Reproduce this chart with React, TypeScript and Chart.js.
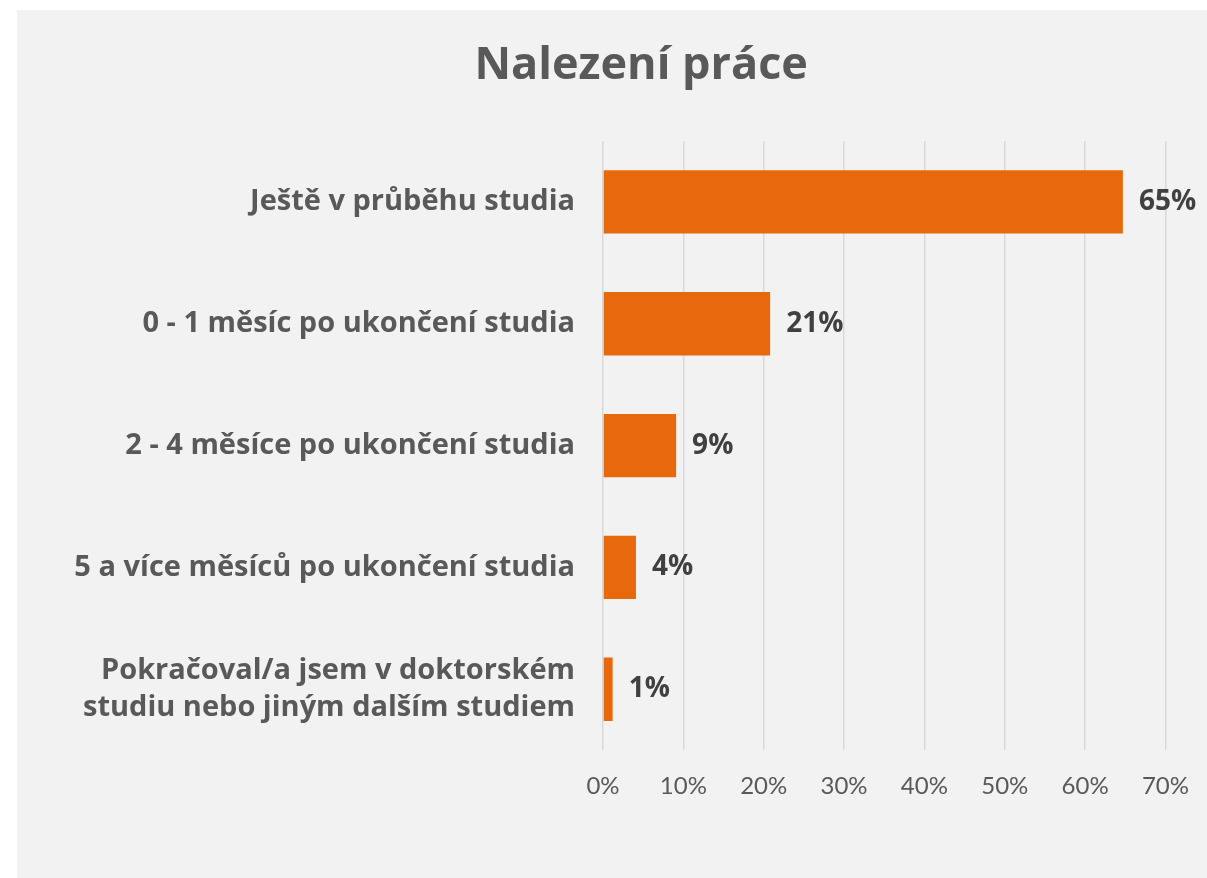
import React, { useEffect, useRef } from "react";
import { Chart, registerables } from "chart.js";

Chart.register(...registerables);

const categories: (string | string[])[] = [
  "Ještě v průběhu studia",
  "0 - 1 měsíc po ukončení studia",
  "2 - 4 měsíce po ukončení studia",
  "5 a více měsíců po ukončení studia",
  ["Pokračoval/a jsem v doktorském", "studiu nebo jiným dalším studiem"],
];
const values = [64.7, 20.8, 9.1, 4.1, 1.2];
const valueLabels = ["65%", "21%", "9%", "4%", "1%"];
const titleText = "Nalezení práce";

const FONT = "Lato, 'Open Sans', sans-serif";
const BOLD_FONT = "'Open Sans', Lato, sans-serif";

const dataLabelPlugin = {
  id: "dataLabels",
  afterDatasetsDraw(chart: any) {
    const ctx = chart.ctx;
    const meta = chart.getDatasetMeta(0);
    ctx.save();
    ctx.font = `bold 28px ${BOLD_FONT}`;
    ctx.fillStyle = "#404040";
    ctx.textAlign = "left";
    ctx.textBaseline = "middle";
    meta.data.forEach((bar: any, i: number) => {
      ctx.fillText(valueLabels[i], bar.x + 16, bar.y);
    });
    ctx.restore();
  },
};

const titlePlugin = {
  id: "customTitle",
  afterDraw(chart: any) {
    const ctx = chart.ctx;
    ctx.save();
    ctx.font = `bold 45px ${BOLD_FONT}`;
    ctx.fillStyle = "#595959";
    ctx.textAlign = "center";
    ctx.textBaseline = "middle";
    ctx.fillText(titleText, chart.width * 0.5245, 56);
    ctx.restore();
  },
};

export default function App() {
  const ref = useRef<HTMLCanvasElement>(null);
  useEffect(() => {
    if (!ref.current) return;
    const chart = new Chart(ref.current, {
      type: "bar",
      data: {
        labels: categories,
        datasets: [
          {
            data: values,
            backgroundColor: "#E8690B",
            borderWidth: 0,
            barPercentage: 0.52,
            categoryPercentage: 1,
          },
        ],
      },
      options: {
        indexAxis: "y",
        animation: false,
        responsive: true,
        maintainAspectRatio: false,
        layout: { padding: { left: 20, right: 41, top: 131, bottom: 59 } },
        plugins: {
          legend: { display: false },
          tooltip: { enabled: false },
          title: { display: false },
        },
        scales: {
          x: {
            min: 0,
            max: 70,
            ticks: {
              stepSize: 10,
              callback: (v: any) => v + "%",
              color: "#595959",
              font: { family: FONT, size: 24 },
              padding: 18,
            },
            grid: {
              color: "#D9D9D9",
              lineWidth: 1.5,
              drawTicks: true,
              tickLength: 4,
              tickColor: "rgba(0,0,0,0)",
            },
            border: { display: false },
          },
          y: {
            afterFit: (s: any) => {
              s.width = 566;
            },
            ticks: {
              color: "#595959",
              font: { family: BOLD_FONT, size: 29, weight: "bold", lineHeight: 1.3 },
              padding: 28,
            },
            grid: { display: false, drawTicks: false },
            border: { display: false },
          },
        },
      },
      plugins: [dataLabelPlugin, titlePlugin],
    });
    return () => chart.destroy();
  }, []);
  return (
    <div
      style={{
        position: "fixed",
        left: 17,
        top: 10,
        width: 1190,
        height: 868,
        background: "#F2F2F2",
      }}
    >
      <canvas ref={ref} />
    </div>
  );
}
